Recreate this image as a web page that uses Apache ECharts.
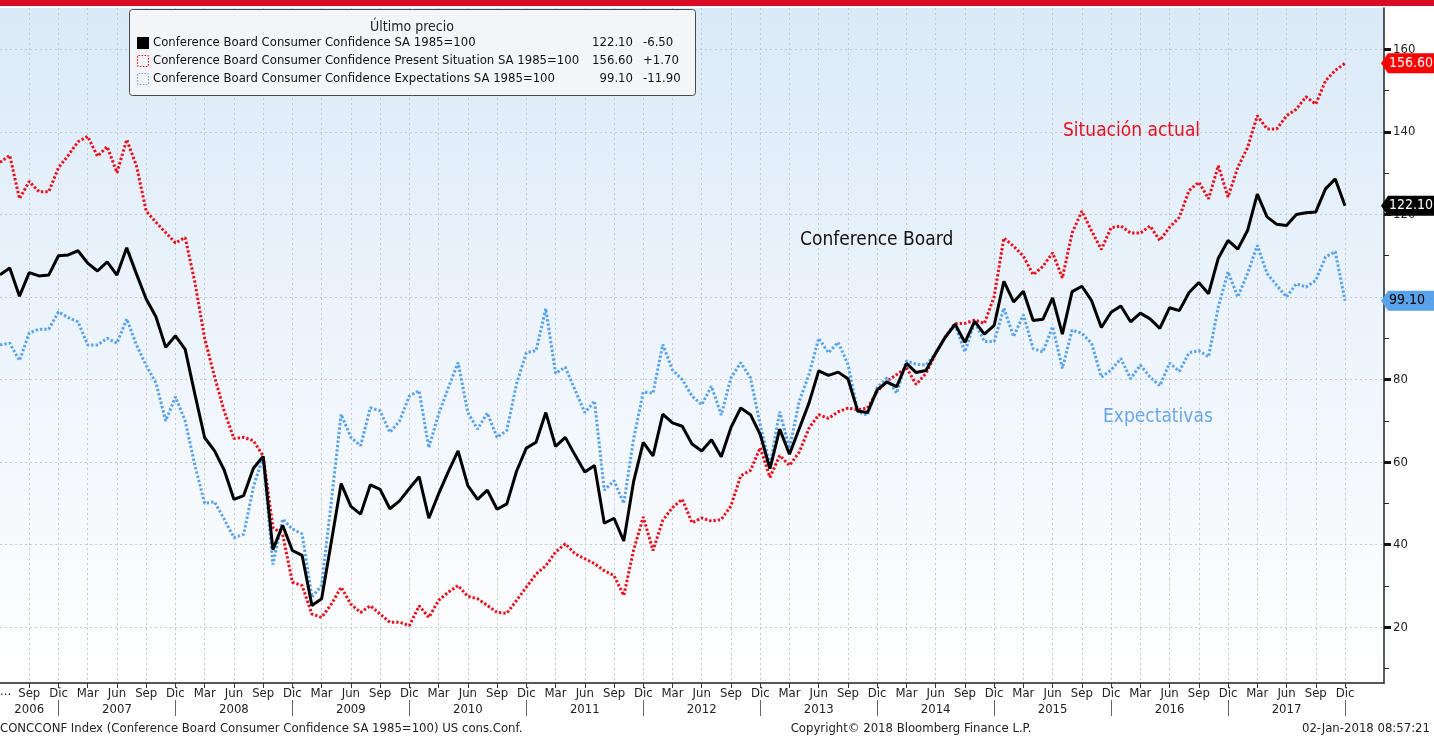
<!DOCTYPE html>
<html>
<head>
<meta charset="utf-8">
<title>Conference Board Consumer Confidence</title>
<script src="https://cdn.jsdelivr.net/npm/echarts@6/dist/echarts.min.js"></script>
<style>
  html, body { margin: 0; padding: 0; background: #fff; }
  #chart { width: 1434px; height: 737px; }
</style>
</head>
<body>
<div id="chart"></div>
<script>
const monthNames = ['Ene', 'Feb', 'Mar', 'Abr', 'May', 'Jun', 'Jul', 'Ago', 'Sep', 'Oct', 'Nov', 'Dic']

// axis runs from Jun 2006 to Abr 2018 (monthly)
const months = []
for (let y = 2006; y <= 2018; y++) {
  for (let m = 0; m < 12; m++) {
    if ((y === 2006 && m < 5) || (y === 2018 && m > 3)) continue
    months.push(monthNames[m] + ' ' + y)
  }
}

// Jun 2006 .. Dic 2017
const confBoard = [
  105.4, 107.0, 100.2, 105.9, 105.1, 105.3, 110.0,
  110.2, 111.2, 108.2, 106.3, 108.5, 105.3, 111.9, 105.6, 99.5, 95.2, 87.8, 90.6,
  87.3, 76.4, 65.9, 62.8, 58.1, 51.0, 51.9, 58.5, 61.4, 38.8, 44.7, 38.6,
  37.4, 25.3, 26.9, 40.8, 54.8, 49.3, 47.4, 54.5, 53.4, 48.7, 50.6, 53.6,
  56.5, 46.4, 52.3, 57.7, 62.7, 54.3, 51.0, 53.2, 48.6, 49.9, 57.8, 63.4,
  64.8, 72.0, 63.8, 66.0, 61.7, 57.6, 59.2, 45.2, 46.4, 40.9, 55.2, 64.8,
  61.5, 71.6, 69.5, 68.7, 64.4, 62.7, 65.4, 61.3, 68.4, 73.1, 71.5, 66.7,
  58.4, 68.0, 61.9, 68.1, 74.3, 82.1, 81.0, 81.8, 80.2, 72.4, 72.0, 77.5,
  79.4, 78.3, 83.9, 81.7, 82.2, 86.4, 90.3, 93.4, 89.0, 94.1, 91.0, 93.1,
  103.8, 98.8, 101.4, 94.3, 94.6, 99.8, 91.0, 101.3, 102.6, 99.1, 92.6, 96.3,
  97.8, 94.0, 96.1, 94.7, 92.4, 97.4, 96.7, 101.1, 103.5, 100.8, 109.4, 113.7,
  111.6, 116.1, 124.9, 119.4, 117.6, 117.3, 120.0, 120.4, 120.6, 126.2, 128.6, 122.1
]

const presentSituation = [
  132.6, 134.3, 123.8, 128.0, 125.5, 125.5, 131.3,
  134.3, 137.6, 138.9, 134.1, 136.4, 130.1, 138.1, 131.8, 120.8, 118.1, 115.6, 113.1,
  114.4, 103.5, 90.0, 80.8, 72.4, 65.7, 66.0, 65.2, 61.5, 44.2, 42.5, 30.9,
  30.1, 23.2, 22.4, 25.6, 29.7, 25.6, 23.6, 25.2, 23.2, 21.2, 21.2, 20.4,
  25.2, 22.4, 26.5, 28.5, 30.1, 27.5, 26.9, 25.3, 23.6, 23.4, 26.5, 29.7,
  32.9, 34.9, 38.2, 40.2, 37.8, 36.6, 35.4, 33.7, 32.5, 27.7, 38.6, 46.7,
  38.6, 45.9, 49.0, 51.0, 45.3, 46.5, 45.7, 46.1, 49.4, 56.7, 58.0, 63.5,
  56.3, 61.6, 59.2, 62.4, 68.2, 71.5, 70.6, 72.2, 73.1, 72.7, 73.1, 77.1,
  79.6, 81.2, 82.9, 78.8, 81.5, 86.3, 90.4, 93.6, 93.6, 94.4, 93.6, 100.1,
  114.3, 112.3, 109.9, 105.4, 107.4, 110.7, 104.6, 115.5, 120.8, 116.0, 111.5, 116.8,
  117.2, 115.5, 115.5, 117.2, 113.7, 116.9, 119.3, 125.8, 127.8, 123.8, 131.8, 124.2,
  131.4, 136.2, 143.9, 140.7, 140.7, 143.9, 145.5, 148.5, 146.7, 152.4, 154.9, 156.6
]

const expectations = [
  88.4, 88.8, 84.6, 91.3, 92.2, 92.2, 96.4,
  95.0, 94.0, 88.4, 88.4, 90.0, 88.8, 94.7, 88.4, 83.4, 79.2, 70.0, 75.8,
  70.0, 59.2, 50.0, 50.4, 46.2, 41.7, 42.5, 54.0, 61.3, 35.2, 46.2, 43.8,
  42.6, 27.3, 30.1, 50.6, 71.6, 66.0, 64.0, 73.2, 72.4, 67.2, 70.0, 76.0,
  77.3, 63.5, 71.6, 78.0, 84.1, 72.0, 68.0, 71.9, 66.0, 67.7, 79.0, 86.5,
  87.0, 97.2, 81.5, 83.0, 77.5, 72.0, 74.8, 53.2, 55.5, 50.0, 65.5, 77.0,
  76.7, 88.5, 82.3, 80.0, 76.0, 73.9, 78.4, 71.4, 80.4, 84.1, 80.4, 69.0,
  59.2, 72.2, 63.3, 74.7, 81.2, 90.0, 86.5, 89.0, 83.7, 72.2, 71.4, 78.0,
  80.4, 76.7, 84.5, 83.7, 83.5, 86.3, 90.4, 93.2, 86.7, 94.0, 89.2, 89.2,
  97.3, 90.4, 95.7, 87.5, 86.7, 92.8, 82.7, 92.0, 91.2, 88.8, 80.6, 82.3,
  85.1, 80.2, 83.5, 80.6, 78.5, 84.0, 82.0, 86.5, 87.0, 85.5, 97.6, 106.1,
  100.0, 105.7, 112.5, 105.7, 102.8, 100.0, 103.2, 102.4, 104.0, 109.7, 111.0, 99.1
]

const yLabelTicks = [20, 40, 60, 80, 100, 120, 140, 160]
const yMinorTicks = [10, 30, 50, 70, 90, 110, 130, 150]

const FONT = "'DejaVu Sans Condensed', 'DejaVu Sans', sans-serif"
const RED = '#e8101e'
const BLUE = '#5aa3ea'

const monthOf = v => v.split(' ')[0]
const yearOf = v => +v.split(' ')[1]
const inRange = i => i >= 3 && i <= 138   // Sep 2006 .. Dic 2017
const isQuarter = (i, v) => inRange(i) && ['Mar', 'Jun', 'Sep', 'Dic'].includes(monthOf(v))

function txt(x, y, text, size, color, align) {
  return {
    type: 'text', x, y, z: 100,
    style: { text, fill: color, font: size + 'px ' + FONT, align: align || 'left', verticalAlign: 'middle' }
  }
}
const last = a => a[a.length - 1]
const change = a => {
  const d = last(a) - a[a.length - 2]
  return (d > 0 ? '+' : '') + d.toFixed(2)
}

const chart = echarts.init(document.getElementById('chart'))

chart.setOption({
  animation: false,
  backgroundColor: '#fff',
  textStyle: { fontFamily: FONT },
  grid: {
    left: -2, right: 50, top: 8, bottom: 54,
    show: true, borderWidth: 0,
    backgroundColor: new echarts.graphic.LinearGradient(0, 0, 0, 1, [
      { offset: 0, color: '#dbeaf8' },
      { offset: 1, color: '#ffffff' }
    ])
  },
  xAxis: [{
    type: 'category',
    data: months,
    boundaryGap: false,
    axisLine: { lineStyle: { color: '#222', width: 1.5 } },
    axisTick: { show: true, interval: isQuarter, length: 5, lineStyle: { color: '#333' } },
    axisLabel: {
      interval: isQuarter, formatter: monthOf,
      color: '#222', fontSize: 13, fontFamily: FONT, margin: 4
    },
    splitLine: { show: true, interval: isQuarter, lineStyle: { color: '#c4c9cf', type: [2, 3] } }
  }, {
    type: 'category',
    data: months,
    boundaryGap: false,
    position: 'bottom',
    offset: 17,
    axisLine: { show: false },
    axisTick: {
      show: true,
      interval: (i, v) => inRange(i) && monthOf(v) === 'Dic',
      length: 16, lineStyle: { color: '#666' }
    },
    axisLabel: {
      interval: (i, v) => i === 3 || (inRange(i) && monthOf(v) === 'Jun' && yearOf(v) > 2006),
      formatter: v => String(yearOf(v)),
      color: '#222', fontSize: 13, fontFamily: FONT, margin: 3
    },
    splitLine: { show: false }
  }],
  yAxis: [{
    type: 'value',
    position: 'right',
    min: 6.5, max: 170, splitNumber: 8,
    axisLine: { show: true, lineStyle: { color: '#222', width: 1.5 } },
    axisTick: { show: true, customValues: yLabelTicks, length: 7, lineStyle: { color: '#111', width: 3 } },
    axisLabel: { customValues: yLabelTicks, color: '#222', fontSize: 13, fontFamily: FONT, margin: 9 },
    splitLine: { lineStyle: { color: '#c4c9cf', type: [2, 3] } }
  }, {
    type: 'value',
    position: 'right',
    min: 6.5, max: 170,
    axisLine: { show: false },
    axisTick: { show: true, customValues: yMinorTicks, length: 5, lineStyle: { color: '#222', width: 1 } },
    axisLabel: { show: false },
    splitLine: { show: false }
  }],
  series: [{
    name: 'Conference Board Consumer Confidence Present Situation SA 1985=100',
    type: 'line',
    data: presentSituation,
    showSymbol: false,
    lineStyle: { color: RED, width: 3, type: [2.4, 2] },
    z: 3
  }, {
    name: 'Conference Board Consumer Confidence Expectations SA 1985=100',
    type: 'line',
    data: expectations,
    showSymbol: false,
    lineStyle: { color: BLUE, width: 3, type: [2.4, 2] },
    z: 3
  }, {
    name: 'Conference Board Consumer Confidence SA 1985=100',
    type: 'line',
    data: confBoard,
    showSymbol: false,
    lineStyle: { color: '#000', width: 3 },
    z: 4
  }]
})

// overlays: title bar, legend box, annotations, last-value tags, footer
const axisX = chart.convertToPixel({ xAxisIndex: 0 }, months.length - 1)
const tagFor = (value, fill, color) => {
  const y = chart.convertToPixel({ yAxisIndex: 0 }, value)
  return [{
    type: 'polygon', z: 90,
    shape: { points: [[axisX - 3, y], [axisX + 4, y - 10], [1434, y - 10], [1434, y + 10], [axisX + 4, y + 10]] },
    style: { fill }
  }, txt(axisX + 5, y, value.toFixed(2), 14, color)]
}

const rows = [
  { name: 'Conference Board Consumer Confidence SA 1985=100', data: confBoard, mark: 'solid' },
  { name: 'Conference Board Consumer Confidence Present Situation SA 1985=100', data: presentSituation, mark: RED },
  { name: 'Conference Board Consumer Confidence Expectations SA 1985=100', data: expectations, mark: BLUE }
]
const legend = [{
  type: 'rect', z: 95,
  shape: { x: 129.5, y: 9.5, width: 566, height: 86, r: 3 },
  style: { fill: '#f3f5f7', stroke: '#4a4a4a', lineWidth: 1 }
}, txt(412, 27, 'Último precio', 14, '#222', 'center')]
rows.forEach((r, k) => {
  const y = 43 + k * 18
  legend.push(r.mark === 'solid'
    ? { type: 'rect', z: 100, shape: { x: 137, y: y - 6, width: 12, height: 12 }, style: { fill: '#000' } }
    : { type: 'rect', z: 100, shape: { x: 137.5, y: y - 5.5, width: 11, height: 11, r: 1 },
        style: { fill: 'none', stroke: r.mark, lineWidth: 1.2, lineDash: [1.5, 1.5] } })
  legend.push(txt(153, y, r.name, 13, '#111'))
  legend.push(txt(633, y, last(r.data).toFixed(2), 13, '#111', 'right'))
  legend.push(txt(643, y, change(r.data), 13, '#111'))
})

chart.setOption({
  graphic: [
    { type: 'rect', z: 100, shape: { x: 0, y: 0, width: 1434, height: 6 }, style: { fill: '#d90a24' } },
    ...legend,
    txt(1063, 131, 'Situación actual', 19, RED),
    txt(800, 240, 'Conference Board', 19, '#111'),
    txt(1103, 417, 'Expectativas', 19, '#6aa7e6'),
    ...tagFor(last(presentSituation), '#ff0000', '#fff'),
    ...tagFor(last(confBoard), '#000', '#fff'),
    ...tagFor(last(expectations), BLUE, '#000'),
    txt(0, 692, '...', 13, '#222'),
    txt(0, 729, 'CONCCONF Index (Conference Board Consumer Confidence SA 1985=100) US cons.Conf.', 13, '#222'),
    txt(911, 729, 'Copyright\u00a9 2018 Bloomberg Finance L.P.', 13, '#222', 'center'),
    txt(1430, 729, '02-Jan-2018 08:57:21', 13, '#222', 'right')
  ]
})
</script>
</body>
</html>
